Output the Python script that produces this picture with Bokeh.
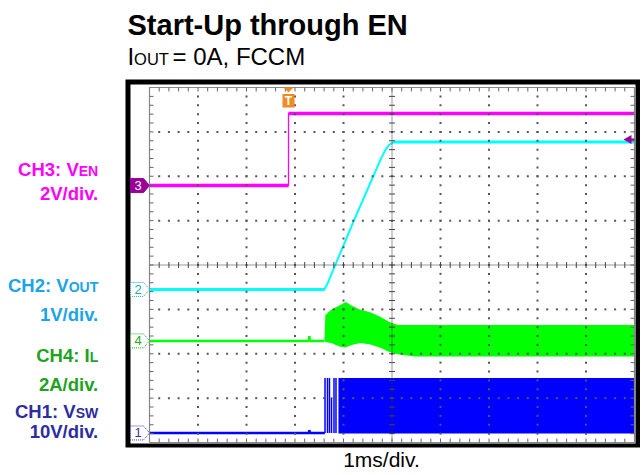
import numpy as np
from bokeh.plotting import figure
from bokeh.models import Range1d
from bokeh.embed import file_html
from bokeh.resources import INLINE
from bokeh.core.properties import value

# ---------------- data read from the scope capture ----------------
TIME_PER_DIV_MS = 1.0
# time in ms relative to trigger (EN rising edge)
EN_T = [-2.87, 0.0, 0.0, 7.13]
EN_V = [0.0, 0.0, 3.25, 3.25]

VOUT_T = [-2.87, 0.74, 0.80, 1.34, 1.90, 2.00, 2.08, 2.17, 7.13]
VOUT_V = [0.0, 0.0, 0.12, 1.53, 2.93, 3.15, 3.26, 3.32, 3.32]

IL_PRE_T = [-2.87, 0.42, 0.43, 0.44, 0.74]
IL_PRE_A = [0.0, 0.0, 0.22, 0.0, 0.0]
IL_T = [0.74, 0.76, 0.88, 1.05, 1.18, 1.30, 1.48, 1.67, 1.88, 2.08, 2.25, 2.60, 7.13]
IL_HI = [0.0, 1.17, 1.40, 1.60, 1.75, 1.60, 1.40, 1.30, 1.10, 0.85, 0.72, 0.72, 0.72]
IL_LO = [0.0, -0.05, -0.10, -0.25, -0.30, -0.18, -0.10, -0.15, -0.30, -0.50, -0.60, -0.70, -0.70]

VSW_PRE_T = [-2.87, 0.42, 0.43, 0.44, 0.75]
VSW_PRE_V = [0.0, 0.0, 0.6, 0.0, 0.0]
VSW_PULSE_T = [0.753, 0.804, 0.845, 0.887, 0.938, 0.979]
VSW_PULSE_V = [12.4, 12.4, 12.4, 8.0, 12.4, 12.4]
VSW_BAND_T = [1.03, 7.13]
VSW_BAND_HI = [12.4, 12.4]
VSW_BAND_LO = [-0.1, -0.1]

# channels: CH3, CH2, CH4, CH1
CH_NUM = ["3", "2", "4", "1"]
CH_SIG = ["V", "V", "I", "V"]
CH_SUB = ["EN", "OUT", "L", "SW"]
CH_SCALE = [2.0, 1.0, 2.0, 10.0]
CH_UNIT = ["V", "V", "A", "V"]
CH_OFFSET_DIV = [5.79, 3.45, 2.29, 0.215]
TRIG_LEVEL_V = 2.08  # on CH3

TITLE = "Start-Up through EN"
SUBTITLE = ["I", "OUT", "= 0A, FCCM"]
XLABEL = "1ms/div."

# ---------------- layout (reference image pixels) ----------------
W, H = 640, 473
M = 0
GL, GR, GT, GB = 149.0, 634.0, 87.0, 442.0
NX, NY = 10, 8
DX = (GR - GL) / NX
DY = (GB - GT) / NY
BASE_FIX = 0.33  # empirical baseline correction (fraction of font size)


def X(px):
    return (np.asarray(px, dtype=float) - GL) / DX


def Y(py):
    return (GB - np.asarray(py, dtype=float)) / DY


def YB(py, size):
    return float(Y(py - BASE_FIX * size))


TRIG_DIV = float(X(288.0))


def tx(t):
    return TRIG_DIV + np.asarray(t, dtype=float) / TIME_PER_DIV_MS


def vy(ch, v):
    return CH_OFFSET_DIV[ch] + np.asarray(v, dtype=float) / CH_SCALE[ch]


C_EN, C_VOUT, C_IL, C_SW = "#ff00ff", "#00ffff", "#00ff00", "#0000ff"
LBL_COL = ["#ff00ff", "#1ca4e8", "#1ea31e", "#2d2d9f"]
MARK_COL = ["#990099", "#22a8b4", "#22aa22", "#3535a8"]
FONT = value("Liberation Sans")

p = figure(width=W, height=H, x_range=Range1d(float(X(M)), float(X(M + W))),
           y_range=Range1d(float(Y(M + H)), float(Y(M))),
           output_backend="svg", toolbar_location=None,
           x_axis_location=None, y_axis_location=None, min_border=0,
           outline_line_color=None, background_fill_color="white",
           border_fill_color="white")
p.grid.visible = False

# outer black frame
p.quad(left=[float(X(125))], right=[float(X(640))], top=[float(Y(79))], bottom=[float(Y(447))],
       fill_color="black", line_color=None)
p.quad(left=[float(X(130))], right=[float(X(635))], top=[float(Y(84))], bottom=[float(Y(443))],
       fill_color="white", line_color=None)


def flat_segments(t, v):
    xs, ys = [], []
    for i in range(len(t) - 1):
        if v[i] == v[i + 1] and t[i] != t[i + 1]:
            xs.append([t[i], t[i + 1]])
            ys.append([v[i], v[i + 1]])
    return xs, ys

# ---- traces ----
# CH1 VSW
p.line(tx(VSW_PRE_T), vy(3, VSW_PRE_V), line_color=C_SW, line_width=2.5)
p.segment(x0=tx(VSW_PULSE_T), y0=vy(3, [0] * len(VSW_PULSE_T)), x1=tx(VSW_PULSE_T),
          y1=vy(3, VSW_PULSE_V), line_color=C_SW, line_width=1.5)
p.varea(x=tx(VSW_BAND_T), y1=vy(3, VSW_BAND_LO), y2=vy(3, VSW_BAND_HI), fill_color=C_SW)

# CH4 IL
p.line(tx(IL_PRE_T), vy(2, IL_PRE_A), line_color=C_IL, line_width=2.5)
p.varea(x=tx(IL_T), y1=vy(2, IL_LO), y2=vy(2, IL_HI), fill_color=C_IL)

# CH2 VOUT
p.line(tx(VOUT_T), vy(1, VOUT_V), line_color=C_VOUT, line_width=2)
fx, fy = flat_segments(VOUT_T, VOUT_V)
p.multi_line([list(tx(a)) for a in fx], [list(vy(1, b)) for b in fy], line_color=C_VOUT, line_width=3)

# CH3 EN
p.line(tx(EN_T), vy(0, EN_V), line_color=C_EN, line_width=1.3)
fx, fy = flat_segments(EN_T, EN_V)
p.multi_line([list(tx(a)) for a in fx], [list(vy(0, b)) for b in fy], line_color=C_EN, line_width=3.5)

# ---- graticule ----
dots_x, dots_y = [], []
for gx in [1, 2, 3, 4, 6, 7, 8, 9]:
    for k in range(1, NY * 5):
        dots_x.append(gx)
        dots_y.append(k / 5)
for gy in [1, 2, 3, 5, 6, 7]:
    for k in range(1, NX * 5):
        dots_x.append(k / 5)
        dots_y.append(gy)
p.scatter(dots_x, dots_y, marker="square", size=2, fill_color="#555555", line_color=None)

# center cross lines with ticks
p.line([NX / 2, NX / 2], [0, NY], line_color="#333333", line_width=1, line_dash="1 1")
p.line([0, NX], [NY / 2, NY / 2], line_color="#333333", line_width=1, line_dash="1 1")
tk = 3.0
ty = [k / 5 for k in range(1, NY * 5)]
p.segment(x0=[NX / 2 - tk / DX] * len(ty), x1=[NX / 2 + tk / DX] * len(ty), y0=ty, y1=ty,
          line_color="#444444", line_width=1)
txs = [k / 5 for k in range(1, NX * 5)]
p.segment(x0=txs, x1=txs, y0=[NY / 2 - tk / DY] * len(txs), y1=[NY / 2 + tk / DY] * len(txs),
          line_color="#444444", line_width=1)

# border with inward ticks
p.line([0, NX, NX, 0, 0], [0, 0, NY, NY, 0], line_color="#888888", line_width=1.2)
bt = 4.0
p.segment(x0=txs, x1=txs, y0=[NY] * len(txs), y1=[NY - bt / DY] * len(txs), line_color="#666666")
p.segment(x0=txs, x1=txs, y0=[0] * len(txs), y1=[bt / DY] * len(txs), line_color="#666666")
p.segment(x0=[0] * len(ty), x1=[bt / DX] * len(ty), y0=ty, y1=ty, line_color="#666666")
p.segment(x0=[NX] * len(ty), x1=[NX - bt / DX] * len(ty), y0=ty, y1=ty, line_color="#666666")

# ---- channel ground markers (left) ----
mxs, mys = [], []
for ch in range(4):
    yc = GB - CH_OFFSET_DIV[ch] * DY
    pxs = [130, 143, 149, 143, 130]
    pys = [yc - 7, yc - 7, yc, yc + 7, yc + 7]
    mxs.append(list(X(pxs)))
    mys.append(list(Y(pys)))
p.patches(mxs[:1], mys[:1], fill_color="#990099", line_color=MARK_COL[0], line_width=1)
p.patches(mxs[1:], mys[1:], fill_color="white", line_color=MARK_COL[1:], line_width=1,
          line_dash="1 1")
p.text(x=[float(X(137.5))] * 4, y=list(CH_OFFSET_DIV), text=CH_NUM,
       text_color=["white"] + MARK_COL[1:], text_font=FONT, text_font_size=value("13px"),
       text_align="center", text_baseline="middle")

# trigger position marker (top)
trig_px = GL + TRIG_DIV * DX
p.patches([list(X([trig_px - 5, trig_px + 5, trig_px]))], [list(Y([87, 87, 92]))],
          fill_color="#f08a24", line_color=None)
p.quad(left=[float(X(trig_px - 6))], right=[float(X(trig_px + 6))], top=[float(Y(93.5))],
       bottom=[float(Y(107))], fill_color="#f08a24", line_color=None)
p.text(x=[TRIG_DIV], y=[float(Y(100.5))], text=["T"], text_color="white", text_font=FONT,
       text_font_style="bold", text_font_size=value("12px"), text_align="center",
       text_baseline="middle")

# trigger level marker (right)
tl = float(vy(0, TRIG_LEVEL_V))
tly = GB - tl * DY
p.patches([list(X([623, 631, 631]))], [list(Y([tly, tly - 4.5, tly + 4.5]))],
          fill_color="#990099", line_color=None)
p.segment(x0=[float(X(629))], x1=[float(X(634))], y0=[tl], y1=[tl], line_color="#990099", line_width=2)

# ---- texts ----
p.text(x=[float(X(127))], y=[YB(34, 29)], text=[TITLE], text_font=FONT, text_font_style="bold",
       text_font_size=value("29px"), text_color="black", text_baseline="alphabetic")
sub_x = [127, 133.6, 172.0]
sub_sz = [24, 16.5, 24]
for s, sx, sz in zip(SUBTITLE, sub_x, sub_sz):
    p.text(x=[float(X(sx))], y=[YB(63.5, sz)], text=[s], text_font=FONT,
           text_font_size=value(f"{sz}px"), text_color="black", text_baseline="alphabetic")

p.text(x=[float(X(381))], y=[YB(466, 21)], text=[XLABEL], text_font=FONT,
       text_font_size=value("21px"), text_color="black", text_align="center",
       text_baseline="alphabetic")

BOLD_W = {"E": .667, "N": .722, "O": .778, "U": .722, "T": .611, "L": .611, "S": .667, "W": .944}
RIGHT = 97.7
SUB_PX = 14
LBL_PX = 18.5
name_base = [175.5, 291, 361, 417]
scale_base = [199.5, 320.5, 390, 437.5]
for ch in range(4):
    sw = sum(BOLD_W[c] for c in CH_SUB[ch]) * SUB_PX
    p.text(x=[float(X(RIGHT))], y=[YB(name_base[ch], SUB_PX)], text=[CH_SUB[ch]], text_font=FONT,
           text_font_style="bold", text_font_size=value(f"{SUB_PX}px"), text_color=LBL_COL[ch],
           text_align="right", text_baseline="alphabetic")
    p.text(x=[float(X(RIGHT - sw))], y=[YB(name_base[ch], LBL_PX)],
           text=[f"CH{CH_NUM[ch]}: {CH_SIG[ch]}"], text_font=FONT, text_font_style="bold",
           text_font_size=value(f"{LBL_PX}px"), text_color=LBL_COL[ch], text_align="right",
           text_baseline="alphabetic")
    p.text(x=[float(X(RIGHT))], y=[YB(scale_base[ch], LBL_PX)],
           text=[f"{CH_SCALE[ch]:g}{CH_UNIT[ch]}/div."], text_font=FONT, text_font_style="bold",
           text_font_size=value(f"{LBL_PX}px"), text_color=LBL_COL[ch], text_align="right",
           text_baseline="alphabetic")

open("out.html", "w").write(file_html(p, INLINE))
